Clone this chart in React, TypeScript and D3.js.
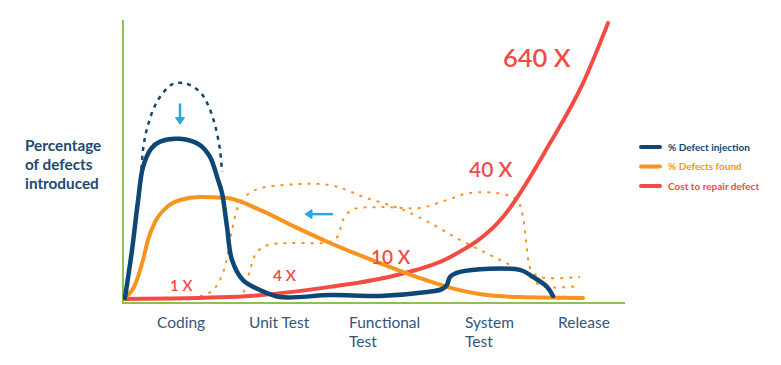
import * as d3 from 'd3'

// phases along x (0..5), percentage along y (0..100)
const phases = [
  { lines: ['Coding'], x: 0.34 },
  { lines: ['Unit Test'], x: 1.26 },
  { lines: ['Functional', 'Test'], x: 2.26 },
  { lines: ['System', 'Test'], x: 3.42 },
  { lines: ['Release'], x: 4.35 },
]

const defectInjection: [number, number][] = [
  [0.02, 1.8], [0.09, 18.7], [0.15, 36], [0.2, 48], [0.28, 54.5], [0.37, 57], [0.57, 58.0],
  [0.77, 55.8], [0.87, 51.6], [0.95, 43.5], [0.99, 38.9], [1.04, 26.9], [1.09, 15.2],
  [1.2, 8.1], [1.37, 4.6], [1.57, 2.1], [2.07, 2.8], [2.57, 2.5], [3.04, 3.9], [3.19, 4.9],
  [3.24, 6.4], [3.27, 9.2], [3.37, 11.0], [3.97, 11.7], [4.1, 9.2], [4.24, 5.7], [4.3, 2.5],
]

const injectionBefore: [number, number][] = [
  [0.18, 44.2], [0.2, 54.1], [0.25, 62.9], [0.35, 71.7], [0.5, 77.4], [0.64, 77.4],
  [0.77, 74.6], [0.85, 70.0], [0.92, 62.9], [0.97, 54.1], [0.99, 46.3],
]

const defectsFound: [number, number][] = [
  [0.02, 1.8], [0.12, 6.4], [0.2, 15.2], [0.25, 22.3], [0.32, 28.6], [0.44, 33.9],
  [0.57, 36.4], [0.77, 37.5], [1.04, 37.1], [1.37, 32.9], [1.72, 26.9], [2.07, 21.2],
  [2.57, 14.1], [2.97, 8.8], [3.24, 5.7], [3.64, 2.8], [3.97, 2.1], [4.6, 1.8],
]

const foundEarlyA: [number, number][] = [
  [0.05, 1.4], [0.37, 1.8], [0.72, 2.1], [0.89, 4.2], [1.01, 11.7], [1.08, 24.0],
  [1.17, 35.3], [1.32, 39.9], [1.74, 42.0], [2.07, 41.7], [2.24, 39.9], [2.4, 37.5],
  [2.6, 35.3], [2.8, 32.9], [3.07, 28.3], [3.37, 22.3], [3.77, 15.2], [4.02, 10.6],
  [4.19, 6.0], [4.57, 6.0],
]

const foundEarlyB: [number, number][] = [
  [1.13, 1.8], [1.22, 4.6], [1.27, 11.7], [1.34, 18.0], [1.45, 20.5], [1.67, 21.2],
  [2.07, 21.6], [2.15, 23.7], [2.2, 29.3], [2.29, 32.9], [2.57, 33.9], [2.97, 33.6],
  [3.24, 36.4], [3.47, 38.9], [3.8, 38.5], [3.94, 36.4], [4.0, 30.4], [4.04, 18.7],
  [4.08, 11.7], [4.17, 9.2], [4.57, 9.2],
]

const repairCost: [number, number][] = [
  [0.02, 1.4], [1.07, 2.1], [2.07, 5.7], [2.74, 9.9], [3.27, 16.2],
  [3.8, 30.4], [4.27, 56.5], [4.6, 77.7], [4.85, 98.9],
]

const costLabels = [
  { text: '1 X', x: 0.47, y: 4.2, size: 15 },
  { text: '4 X', x: 1.5, y: 7.8, size: 15.5 },
  { text: '10 X', x: 2.48, y: 13.8, size: 19 },
  { text: '40 X', x: 3.46, y: 44.5, size: 21 },
  { text: '640 X', x: 3.8, y: 83.4, size: 25.5 },
]

const legendItems = ['% Defect injection', '% Defects found', 'Cost to repair defect']
const yTitle = ['Percentage', 'of defects', 'introduced']

const BLUE = '#0d4775'
const ORANGE = '#f7941d'
const RED = '#f04c43'
const GREEN = '#8cc152'
const ARROW = '#27a9e1'
const TEXT = '#34557a'
const colors = [BLUE, ORANGE, RED]

const x = d3.scaleLinear().domain([0, 5]).range([123, 623])
const y = d3.scaleLinear().domain([0, 100]).range([303, 20])

// loose dotted shapes go back and forth, so catmull-rom; main curves are functions of x
const loose = d3
  .line<[number, number]>()
  .x((d) => x(d[0]))
  .y((d) => y(d[1]))
  .curve(d3.curveCatmullRom.alpha(0.5))

const smooth = d3
  .line<[number, number]>()
  .x((d) => x(d[0]))
  .y((d) => y(d[1]))
  .curve(d3.curveMonotoneX)

export default function App() {
  const font = 'Lato, "Open Sans", sans-serif'
  return (
    <svg
      width={781}
      height={365}
      style={{ position: 'absolute', left: 0, top: 0, background: '#fff' }}
      fontFamily={font}
    >
      {/* axes */}
      <line x1={x(0)} x2={x(0)} y1={y(100)} y2={y(0) + 1} stroke={GREEN} strokeWidth={2} />
      <line x1={x(0) - 1} x2={x(5) + 2} y1={y(0)} y2={y(0)} stroke={GREEN} strokeWidth={2} />

      {/* dotted "shift left" curves */}
      <path d={loose(foundEarlyA) ?? ''} fill="none" stroke={ORANGE} strokeWidth={2} strokeDasharray="3,6" />
      <path d={loose(foundEarlyB) ?? ''} fill="none" stroke={ORANGE} strokeWidth={2} strokeDasharray="3,6" />
      <path d={loose(injectionBefore) ?? ''} fill="none" stroke={BLUE} strokeWidth={2.5} strokeDasharray="4,5" />

      {/* main curves */}
      <path d={smooth(repairCost) ?? ''} fill="none" stroke={RED} strokeWidth={4} strokeLinecap="round" />
      <path d={smooth(defectsFound) ?? ''} fill="none" stroke={ORANGE} strokeWidth={4} strokeLinecap="round" />
      <path d={loose(defectInjection) ?? ''} fill="none" stroke={BLUE} strokeWidth={4.5} strokeLinecap="round" />

      {/* arrows */}
      <g stroke={ARROW} strokeWidth={2.5} fill={ARROW}>
        <line x1={x(0.57)} x2={x(0.57)} y1={y(70.5)} y2={y(64)} />
        <path d={`M${x(0.57) - 4.5},${y(65.5)} L${x(0.57) + 4.5},${y(65.5)} L${x(0.57)},${y(63.2)} Z`} strokeWidth={1} />
        <line x1={x(2.1)} x2={x(1.88)} y1={y(31.4)} y2={y(31.4)} />
        <path d={`M${x(1.89)},${y(31.4) - 4.5} L${x(1.89)},${y(31.4) + 4.5} L${x(1.82)},${y(31.4)} Z`} strokeWidth={1} />
      </g>

      {/* cost multipliers */}
      {costLabels.map((d) => (
        <text key={d.text} x={x(d.x)} y={y(d.y)} fill={RED} fontSize={d.size} fontWeight={600}>
          {d.text}
        </text>
      ))}

      {/* y title */}
      {yTitle.map((t, i) => (
        <text key={t} x={25} y={151 + i * 19} fill="#1d4a72" fontSize={15.3} fontWeight={700}>
          {t}
        </text>
      ))}

      {/* phase labels */}
      {phases.map((p) =>
        p.lines.map((t, i) => (
          <text key={t + i} x={x(p.x)} y={328 + i * 19} fill={TEXT} fontSize={15.5}>
            {t}
          </text>
        )),
      )}

      {/* legend */}
      {legendItems.map((t, i) => (
        <g key={t} transform={`translate(641, ${147 + i * 19.5})`}>
          <line x1={0} x2={19} y1={0} y2={0} stroke={colors[i]} strokeWidth={4} strokeLinecap="round" />
          <text x={27} y={3.5} fill={colors[i]} fontSize={10} fontWeight={700}>
            {t}
          </text>
        </g>
      ))}
    </svg>
  )
}
